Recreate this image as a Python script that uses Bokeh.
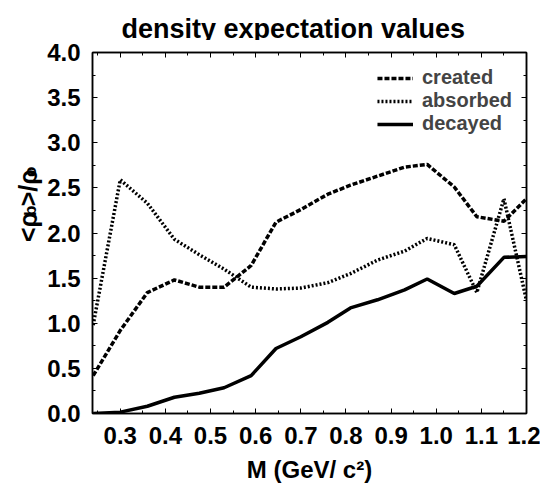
import math
from bokeh.plotting import figure
from bokeh.layouts import row, column
from bokeh.models import (Range1d, FixedTicker, LinearAxis, Legend, LegendItem,
                          CustomJSTickFormatter)
from bokeh.core.properties import value
from bokeh.embed import file_html
from bokeh.resources import INLINE

# ---- data ----
mass = [0.24, 0.30, 0.36, 0.42, 0.475, 0.53, 0.59, 0.645, 0.70, 0.76,
        0.81, 0.87, 0.93, 0.98, 1.04, 1.09, 1.15, 1.20]
created = [0.42, 0.92, 1.34, 1.48, 1.40, 1.40, 1.64, 2.12, 2.26, 2.43,
           2.53, 2.63, 2.73, 2.76, 2.51, 2.18, 2.13, 2.38]
absorbed = [0.98, 2.59, 2.33, 1.93, 1.76, 1.60, 1.40, 1.38, 1.39, 1.45,
            1.55, 1.70, 1.80, 1.94, 1.87, 1.34, 2.38, 1.25]
decayed = [0.00, 0.015, 0.08, 0.18, 0.225, 0.285, 0.42, 0.72, 0.85, 1.01,
           1.17, 1.26, 1.37, 1.49, 1.33, 1.41, 1.73, 1.74]

x_major = [0.3, 0.4, 0.5, 0.6, 0.7, 0.8, 0.9, 1.0, 1.1, 1.2]
x_minor = [0.25, 0.35, 0.45, 0.55, 0.65, 0.75, 0.85, 0.95, 1.05, 1.15]
y_major = [0.0, 0.5, 1.0, 1.5, 2.0, 2.5, 3.0, 3.5, 4.0]
y_minor = [0.25, 0.75, 1.25, 1.75, 2.25, 2.75, 3.25, 3.75]
x_labels = {v: f"{v:.1f}" for v in x_major}
y_labels = {v: f"{v:.1f}" for v in y_major}

title_text = "density expectation values"
x_title = "M (GeV/ c²)"
y_title_parts = ["<ρ", "b", ">/ρ", "o"]   # <rho_b>/rho_o

FONT = "Liberation Sans"
SIDE_W = 44
TOP_H = 40
MAIN_TOP = 12          # TOP_H + MAIN_TOP = 52 = frame top
H = 491 - TOP_H
TOTAL_W = 540

p = figure(frame_width=434, frame_height=361, output_backend="svg", toolbar_location=None,
           title=None,
           x_range=Range1d(0.2385, 1.2), y_range=Range1d(0.0, 4.0),
           x_axis_location=None, y_axis_location=None,
           min_border_left=92 - SIDE_W, min_border_right=14, min_border_top=MAIN_TOP,
           min_border_bottom=70)
p.xgrid.visible = False
p.ygrid.visible = False
p.outline_line_color = "black"
p.outline_line_width = 1.5
p.background_fill_color = "white"
p.border_fill_color = "white"


def style_axis(ax, major, minor, labels, show_labels):
    ax.ticker = FixedTicker(ticks=major, minor_ticks=minor)
    ax.major_tick_in = 5
    ax.major_tick_out = 0
    ax.minor_tick_in = 3
    ax.minor_tick_out = 0
    ax.axis_line_color = "black"
    ax.axis_line_width = 1.5
    if show_labels:
        ax.major_label_overrides = labels
        ax.major_label_text_font = FONT
        ax.major_label_text_font_style = "bold"
        ax.major_label_text_font_size = "24px"
        ax.major_label_text_color = "black"
    else:
        ax.formatter = CustomJSTickFormatter(code="return ''")
        ax.major_label_text_font_size = "0px"
        ax.major_label_standoff = 0


xb = LinearAxis(); style_axis(xb, x_major, x_minor, x_labels, True)
xb.major_label_standoff = 13
xb.axis_label = x_title
xb.axis_label_text_font = FONT
xb.axis_label_text_font_style = "bold"
xb.axis_label_text_font_size = "24px"
xb.axis_label_text_color = "black"
xb.axis_label_standoff = 9
yl = LinearAxis(); style_axis(yl, y_major, y_minor, y_labels, True)
yl.major_label_standoff = 12
xt = LinearAxis(); style_axis(xt, x_major, x_minor, x_labels, False)
yr = LinearAxis(); style_axis(yr, y_major, y_minor, y_labels, False)
p.add_layout(xb, "below")
p.add_layout(yl, "left")
p.add_layout(xt, "above")
p.add_layout(yr, "right")

r_c = p.line(mass, created, line_color="black", line_width=3.5, line_dash="5 2")
r_a = p.line(mass, absorbed, line_color="black", line_width=3.5, line_dash="2 2")
r_d = p.line(mass, decayed, line_color="black", line_width=3.5)

legend = Legend(items=[LegendItem(label="created", renderers=[r_c]),
                       LegendItem(label="absorbed", renderers=[r_a]),
                       LegendItem(label="decayed", renderers=[r_d])],
                location="top_right", border_line_color=None, background_fill_alpha=0,
                label_text_font=FONT, label_text_font_style="bold",
                label_text_font_size="20px", glyph_width=36, glyph_height=20,
                label_height=20, spacing=0, padding=0, margin=14, label_standoff=9)
p.add_layout(legend)


def strip(w, h):
    f = figure(width=w, height=h, output_backend="svg", toolbar_location=None,
               title=None, x_range=Range1d(0, w), y_range=Range1d(0, h),
               x_axis_location=None, y_axis_location=None,
               min_border=0, min_border_left=0, min_border_right=0,
               min_border_top=0, min_border_bottom=0, outline_line_color=None)
    f.xgrid.visible = False
    f.ygrid.visible = False
    f.border_fill_color = "white"
    f.background_fill_color = "white"
    return f


# ---- top strip: chart title ----
t = strip(TOTAL_W, TOP_H)
t.text(x=[121], y=[TOP_H - 28], text=[title_text], text_font=value(FONT),
       text_font_style="bold", text_font_size=value("27px"),
       text_baseline="alphabetic", text_align="left", text_color="black")

# ---- side strip: rotated y-axis title with subscripts ----
s = strip(SIDE_W, H)
base_x = 27                      # baseline of rotated text (px from left)
page_anchor = [273, 241, 229, 193]   # bottom end of each piece (px from page top)
big, small = 25, 17
for txt, py in zip(y_title_parts, page_anchor):
    is_sub = txt in ("b", "o")
    s.text(x=[base_x + (3 if is_sub else 0)], y=[H - (py - TOP_H)], text=[txt],
           angle=math.pi / 2, text_font=value(FONT), text_font_style="bold",
           text_font_size=value(f"{small if is_sub else big}px"),
           text_baseline="alphabetic", text_align="left", text_color="black")

layout = column(t, row(s, p, spacing=0), spacing=0)
open("out.html", "w").write(file_html(layout, INLINE))
